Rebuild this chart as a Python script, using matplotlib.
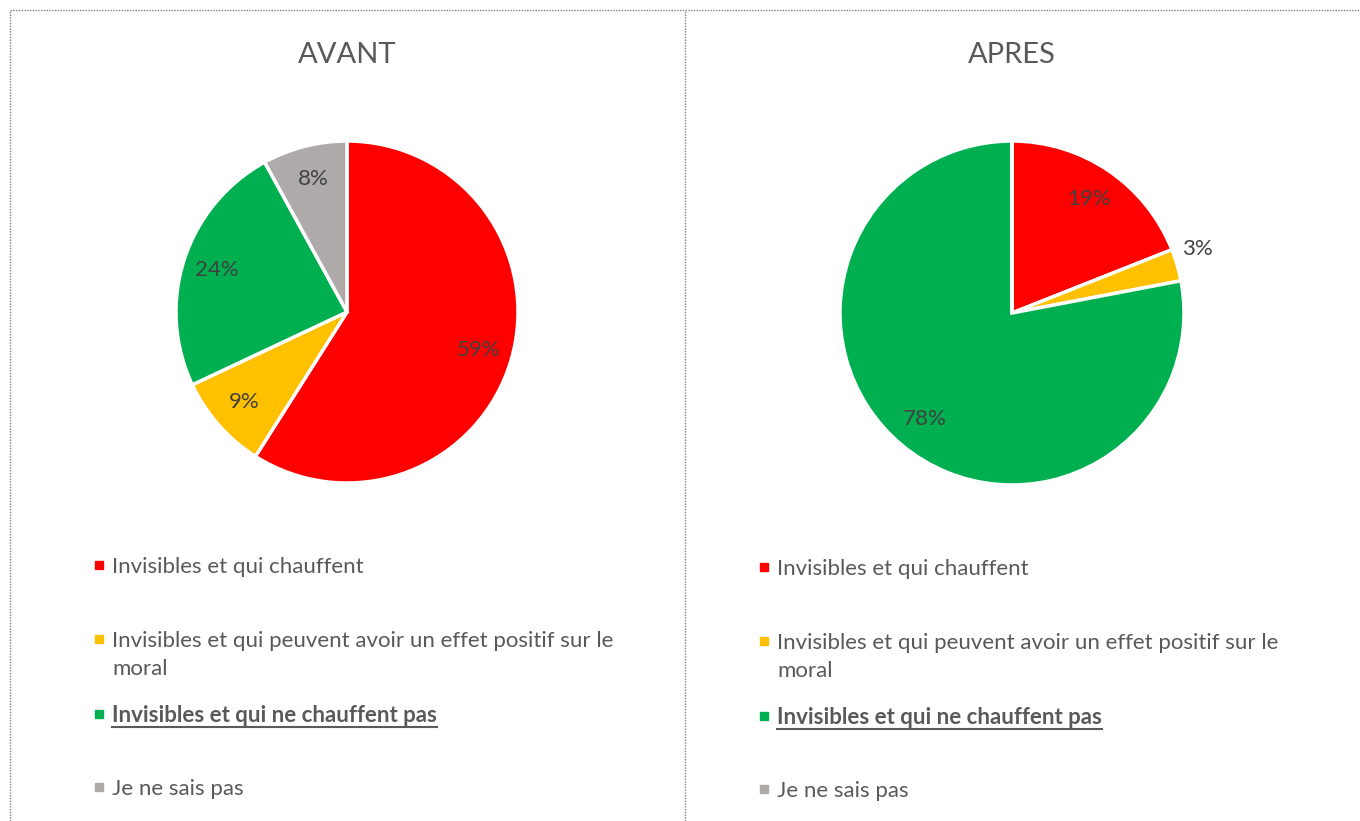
import textwrap
import numpy as np
import matplotlib
matplotlib.use("Agg")
import matplotlib.pyplot as plt
from matplotlib.lines import Line2D
from matplotlib.patches import Rectangle

plt.rcParams['font.family'] = ['Lato', 'DejaVu Sans']

categories = ["Invisibles et qui chauffent",
              "Invisibles et qui peuvent avoir un effet positif sur le moral",
              "Invisibles et qui ne chauffent pas",
              "Je ne sais pas"]
colors = ["#FF0000", "#FFC000", "#00B050", "#AEAAAA"]
titles = ["AVANT", "APRES"]
avant = [59, 9, 24, 8]
apres = [19, 3, 78, 0]

W, H = 1360, 821
fig = plt.figure(figsize=(W / 100, H / 100), dpi=100)

# dotted frame
frame = dict(color="#7f7f7f", linestyle=(0, (1, 1)), linewidth=1)
fig.add_artist(Line2D([10 / W, 1], [1 - 10 / H, 1 - 10 / H], **frame))
fig.add_artist(Line2D([10 / W, 10 / W], [0, 1 - 10 / H], **frame))
fig.add_artist(Line2D([685 / W, 685 / W], [0, 1 - 10 / H], **frame))

panels = [(avant, 347, 312, 171, 99, 0), (apres, 1012, 313, 172, 764, 2)]

for i, (vals, cx, cy, r, lx, dy) in enumerate(panels):
    ax = fig.add_axes([(cx - r) / W, (H - cy - r) / H, 2 * r / W, 2 * r / H])
    wedges, _, autotexts = ax.pie(
        vals, colors=colors, startangle=90, counterclock=False,
        autopct=lambda p: f"{p:.0f}%" if p > 0 else "", pctdistance=0.8,
        wedgeprops=dict(edgecolor="white", linewidth=2.5),
        textprops=dict(fontsize=16, color="#404040"))
    # small slices: put the label outside
    for v, w, t in zip(vals, wedges, autotexts):
        if 0 < v < 5:
            ang = np.deg2rad((w.theta1 + w.theta2) / 2)
            t.set_position((1.12 * np.cos(ang), 1.12 * np.sin(ang)))
            t.set_va("bottom")
    ax.set_xlim(-1, 1)
    ax.set_ylim(-1, 1)
    ax.set_aspect("equal")
    ax.axis("off")

    fig.text(cx / W, 1 - 63 / H, titles[i], ha="center", va="baseline",
             fontsize=21, color="#595959")

    rows_y = [573 + dy, 647 + dy, 722 + dy, 795 + dy]
    for k, (cat, col) in enumerate(zip(categories, colors)):
        y = rows_y[k]
        fig.add_artist(Rectangle(((lx - 4) / W, 1 - (y - 4) / H), 8 / W, 8 / H,
                                 color=col, transform=fig.transFigure))
        bold = (k == 2)
        for j, line in enumerate(textwrap.wrap(cat, 55)):
            t = fig.text((lx + 13) / W, 1 - (y + 28 * j) / H, line,
                         ha="left", va="baseline", fontsize=16, color="#595959",
                         fontweight="bold" if bold else "normal")
            if bold:
                fig.canvas.draw()
                bb = t.get_window_extent()
                fig.add_artist(Line2D([bb.x0 / W, bb.x1 / W],
                                      [(bb.y0 - 1) / H, (bb.y0 - 1) / H],
                                      color="#595959", linewidth=1.5))

fig.savefig("out.png", dpi=100)
